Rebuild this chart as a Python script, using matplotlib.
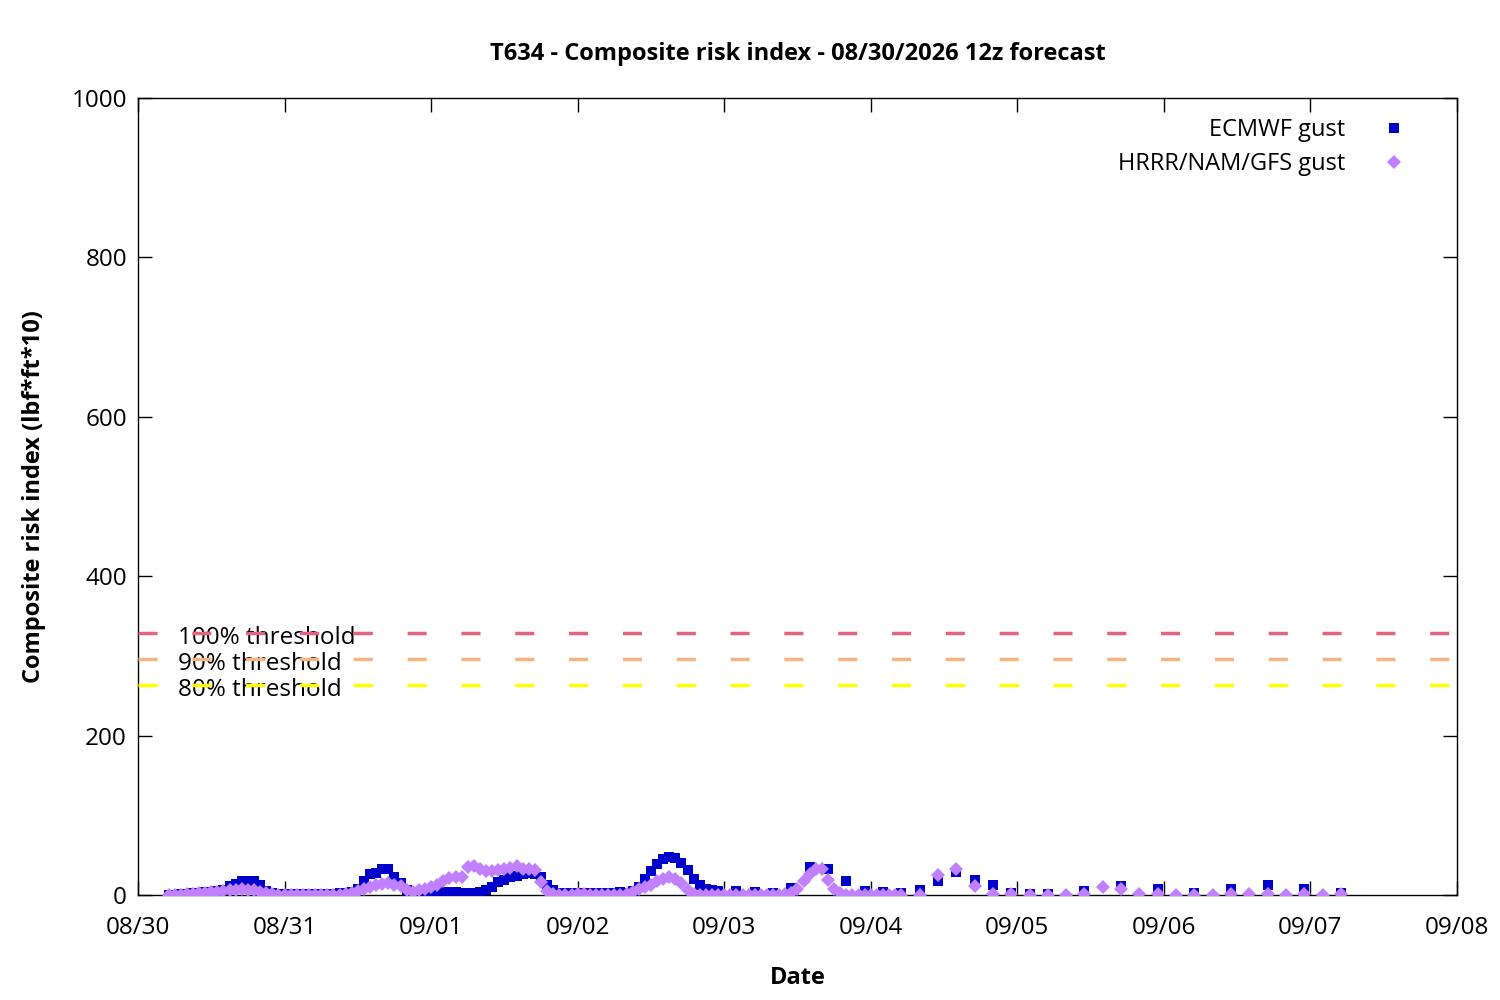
import datetime as dt
import numpy as np
import matplotlib
matplotlib.use("Agg")
import matplotlib.pyplot as plt
import matplotlib.dates as mdates

plt.rcParams['font.family'] = ['Open Sans', 'Noto Sans', 'DejaVu Sans']

# forecast start 08/30/2026 (hours after midnight)
base = dt.datetime(2026, 8, 30)

# ECMWF gust: hourly 5..95, then 3-hourly, then 6-hourly
ecmwf_hours = list(range(5, 96)) + list(range(98, 150, 3)) + list(range(155, 198, 6))
ecmwf_vals = [
    0, 0, 1, 1, 2, 3, 4, 4, 5, 6, 11, 14, 17, 17, 17, 12, 5, 2, 1,       # 5-23
    1, 1, 1, 1, 1, 1, 1, 1, 1, 2, 3, 4, 7, 17, 26, 28, 32, 32, 22, 15,   # 24-43
    6, 2, 1, 2, 3, 4, 4, 4, 4, 3, 3, 3, 4, 6, 10, 16, 19, 22, 24, 26,    # 44-63
    27, 26, 22, 13, 6, 3, 3, 3, 3, 3, 3, 3, 3, 3, 3, 4,                  # 64-79
    3, 5, 10, 20, 30, 39, 45, 48, 46, 40, 31, 20, 12, 7, 6, 5,           # 80-95
    5, 4, 3, 9, 35, 33, 17, 5, 4, 3, 6, 17, 29, 19, 13, 3, 1, 1,         # 98-149
    5, 11, 7, 2, 7, 13, 7, 2,                                            # 155-197
]

# HRRR/NAM/GFS gust: hourly 5..125, then 3-hourly
hrrr_hours = list(range(5, 126)) + list(range(128, 198, 3))
hrrr_vals = [
    0, 0, 0, 1, 1, 2, 3, 4, 4, 5, 6, 6, 7, 6, 6, 4, 2, 1, 0,             # 5-23
    0, 0, 0, 0, 0, 0, 0, 0, 0, 0, 1, 3, 5, 7, 10, 12, 14, 15, 13, 11,    # 24-43
    6, 4, 6, 8, 10, 12, 18, 21, 22, 22, 35, 37, 33, 30, 30, 31, 32, 34,  # 44-61
    36, 33, 32, 31, 16, 5, 1, 0, 0, 0, 1, 1, 0, 0, 0, 0, 0, 0,           # 62-79
    1, 4, 7, 10, 13, 17, 20, 23, 20, 15, 6, 1, 0, 0, 0, 0, 0, 0,         # 80-97
    0, 0, 0, 0, 0, 0, 0, 0, 1, 3, 8, 17, 26, 32, 33, 19, 8, 3,           # 98-115
    0, 0, 0, 0, 0, 0, 0, 0, 0, 0,                                        # 116-125
    0, 25, 33, 11, 1, 1, 0, 0, 0, 1, 10, 8, 1, 1, 0, 0, 0, 1,            # 128-179
    1, 1, 0, 1, 0, 1,                                                    # 182-197
]

threshold = 329
thr_levels = [1.0, 0.9, 0.8]
thr_labels = ['100% threshold', '90% threshold', '80% threshold']
thr_colors = ['#e3647e', '#f5b481', '#ffff00']

ecmwf_t = [base + dt.timedelta(hours=h) for h in ecmwf_hours]
hrrr_t = [base + dt.timedelta(hours=h) for h in hrrr_hours]

fig = plt.figure(figsize=(15, 10), dpi=100)
ax = fig.add_axes([0.092, 0.105, 0.8793, 0.797])

x0 = base
x1 = base + dt.timedelta(days=9)

for lev, lab, col in zip(thr_levels, thr_labels, thr_colors):
    yv = threshold * lev
    ax.text(base + dt.timedelta(hours=6.5), yv - 6, lab, fontsize=17.5,
            va='center', ha='left', zorder=2)
    ax.plot([x0, x1], [yv, yv], color=col, lw=2.5, dashes=(5.5, 10), zorder=3)

ax.plot(ecmwf_t, ecmwf_vals, 's', color='#0000cc', ms=6.5, mew=0,
        label='ECMWF gust', zorder=4)
ax.plot(hrrr_t, hrrr_vals, 'D', color='#c080ff', ms=7.5, mew=0,
        label='HRRR/NAM/GFS gust', zorder=5)

ax.set_xlim(x0, x1)
ax.set_ylim(0, 1000)
ax.set_yticks(range(0, 1001, 200))
ax.xaxis.set_major_locator(mdates.DayLocator())
ax.xaxis.set_major_formatter(mdates.DateFormatter('%m/%d'))
ax.tick_params(direction='in', length=10, width=1, top=True, right=True,
               labelsize=17.5, pad=8)
ax.tick_params(axis='x', pad=15)
for s in ax.spines.values():
    s.set_linewidth(1)

ax.set_title('T634 - Composite risk index - 08/30/2026 12z forecast',
             fontsize=17, fontweight='bold', pad=27)
ax.set_xlabel('Date', fontsize=17, fontweight='bold', labelpad=19)
ax.set_ylabel('Composite risk index (lbf*ft*10)', fontsize=17,
              fontweight='bold', labelpad=18)

leg = ax.legend(loc='upper right', bbox_to_anchor=(1 - 49 / 1319, 1 - 20 / 797),
                frameon=False, markerfirst=False, fontsize=17,
                handlelength=1.2, handletextpad=1.45, borderaxespad=0,
                borderpad=0, labelspacing=0.42)

fig.savefig('out.png', dpi=100)
